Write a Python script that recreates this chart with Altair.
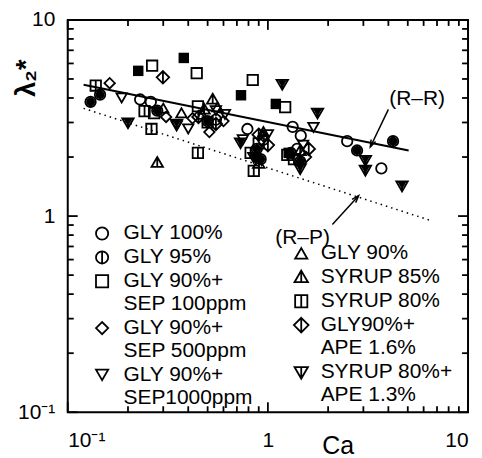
import altair as alt
import pandas as pd

# ---------------- data ----------------
LEFT_SERIES = ["GLY 100%", "GLY 95%", "GLY 90%+|SEP 100ppm", "GLY 90%+|SEP 500ppm", "GLY 90%+|SEP1000ppm"]
RIGHT_SERIES = ["GLY 90%", "SYRUP 85%", "SYRUP 80%", "GLY90%+|APE 1.6%", "SYRUP 80%+|APE 1.3%"]

GLY100_X = [0.23, 0.26, 0.79, 1.33, 1.46, 2.49, 3.69, 0.95, 1.40, 0.55]
GLY100_Y = [3.93, 3.82, 2.78, 2.85, 2.57, 2.41, 1.75, 2.45, 2.20, 3.10]

GLY95_X = [0.13, 0.145, 0.28, 0.50, 0.88, 0.92, 1.30, 1.45, 2.79, 4.22]
GLY95_Y = [3.82, 4.16, 3.45, 3.05, 2.20, 1.95, 2.10, 1.90, 2.16, 2.41]

SEP100_X = [0.264, 0.441, 0.84, 1.22, 0.447, 0.27, 0.90]
SEP100_Y = [5.84, 5.35, 4.94, 3.59, 3.63, 3.35, 2.35]

SEP500_X = [0.162, 0.51, 0.31, 0.60, 0.42, 0.95, 1.55]
SEP500_Y = [4.76, 2.68, 3.20, 3.05, 3.15, 2.55, 2.00]

SEP1000_X = [0.186, 0.35, 0.40, 1.69, 0.61, 0.55, 0.75, 1.50, 1.00]
SEP1000_Y = [4.00, 2.88, 2.78, 2.83, 3.30, 3.45, 2.45, 2.30, 2.60]

GLY90_X = [0.37, 0.30, 0.47, 0.95, 0.56]
GLY90_Y = [3.36, 3.55, 3.30, 2.70, 3.60]

SYR85_X = [0.28, 0.53, 0.48, 0.90, 1.45]
SYR85_Y = [1.87, 3.93, 3.50, 1.85, 2.15]

SYR80_X = [0.138, 0.242, 0.262, 0.447, 0.85, 0.82, 1.25, 1.35, 0.50]
SYR80_Y = [4.63, 3.43, 2.78, 2.10, 1.70, 2.10, 2.05, 1.95, 3.00]

APE16_X = [0.299, 0.45, 0.55, 0.90, 1.00, 1.60]
APE16_Y = [5.10, 3.20, 2.95, 2.60, 2.30, 2.20]

APE13_X = [0.20, 1.18, 1.77, 3.07, 3.07, 4.68, 0.73, 0.85, 1.45, 0.35]
APE13_Y = [3.00, 4.71, 3.36, 1.93, 1.72, 1.43, 2.37, 2.00, 1.75, 2.95]

SOLIDSQ_X = [0.225, 0.38, 0.734, 1.096, 1.27]
SOLIDSQ_Y = [5.50, 6.40, 4.13, 3.73, 2.10]

RR_X = [0.12, 5.05]
RR_Y = [4.67, 2.16]
RP_X = [0.12, 6.5]
RP_Y = [3.54, 0.95]

ANNOT_TEXT = ["(R\u2013R)", "(R\u2013P)"]
ANNOT_X = [5.57, 1.49]
ANNOT_Y = [3.93, 0.77]
ARROW_X1 = [4.0, 2.1]
ARROW_Y1 = [3.5, 0.906]
ARROW_X2 = [3.25, 2.84]
ARROW_Y2 = [2.25, 1.27]
ARROW_ANGLE = [205, 42]

MAJOR_TICKS = [0.1, 1, 10]
MINOR_TICKS = [0.2, 0.3, 0.4, 0.5, 0.6, 0.7, 0.8, 0.9,
               2, 3, 4, 5, 6, 7, 8, 9]

# ---------------- layout / symbols ----------------
W, H = 402, 394
MAJOR_LEN, MINOR_LEN = 10, 6
TICK_COLOR = "black"

CIRCLE_BAR = "M-1,0A1,1,0,1,1,1,0A1,1,0,1,1,-1,0ZM0,-1L0,1"
SQUARE_BAR = "M-1,-1L1,-1L1,1L-1,1ZM0,-1L0,1"
DIAMOND_BAR = "M0,-1.2L1.2,0L0,1.2L-1.2,0ZM0,-1.2L0,1.2"
TRI_UP_BAR = "M0,-1.1L1.1,0.8L-1.1,0.8ZM0,-1.1L0,0.8"
TRI_DOWN_BAR = "M-1.1,-0.8L1.1,-0.8L0,1.1ZM0,-0.8L0,1.1"
ARROW_HEAD = "M-0.45,1.3L0,0L0.45,1.3"

LEFT_SHAPES = ["circle", CIRCLE_BAR, "square", "diamond", "triangle-down"]
RIGHT_SHAPES = ["triangle-up", TRI_UP_BAR, SQUARE_BAR, DIAMOND_BAR, TRI_DOWN_BAR]


def frame(name, xs, ys):
    return pd.DataFrame({"series": name, "x": xs, "y": ys})


left_df = pd.concat([
    frame(LEFT_SERIES[0], GLY100_X, GLY100_Y),
    frame(LEFT_SERIES[1], GLY95_X, GLY95_Y),
    frame(LEFT_SERIES[2], SEP100_X, SEP100_Y),
    frame(LEFT_SERIES[3], SEP500_X, SEP500_Y),
    frame(LEFT_SERIES[4], SEP1000_X, SEP1000_Y),
])
right_df = pd.concat([
    frame(RIGHT_SERIES[0], GLY90_X, GLY90_Y),
    frame(RIGHT_SERIES[1], SYR85_X, SYR85_Y),
    frame(RIGHT_SERIES[2], SYR80_X, SYR80_Y),
    frame(RIGHT_SERIES[3], APE16_X, APE16_Y),
    frame(RIGHT_SERIES[4], APE13_X, APE13_Y),
])

FONT = "Liberation Sans"
LABELS = "datum.value == 0.1 ? '10\u207b\u00b9' : datum.value == 1 ? '1' : '10'"

xscale = alt.Scale(type="log", domain=[0.1, 10], nice=False)
yscale = alt.Scale(type="log", domain=[0.1, 10], nice=False)

x_axis = alt.Axis(values=MAJOR_TICKS, labelExpr=LABELS, ticks=False, labelPadding=17,
                  title="Ca", titleFont=FONT, titleFontSize=25, titleFontWeight="normal",
                  titleX=271, titleY=41, titleBaseline="alphabetic", titleAlign="center")
y_axis = alt.Axis(values=MAJOR_TICKS, labelExpr=LABELS, ticks=False, labelPadding=13,
                  title="\u03bb\u2082*", titleFont=FONT, titleFontSize=27,
                  titleFontWeight="bold", titleX=-41, titleY=58, titleAngle=270,
                  titleAlign="center", titleBaseline="middle")

X = alt.X("x:Q", scale=xscale, axis=x_axis)
Y = alt.Y("y:Q", scale=yscale, axis=y_axis)

legend_common = dict(title=None, orient="none", labelFont=FONT, labelFontSize=21,
                     labelExpr="split(datum.label, '|')", symbolSize=150,
                     symbolStrokeWidth=1.8, symbolStrokeColor="black",
                     rowPadding=2, padding=0, labelLimit=400)

left_pts = alt.Chart(left_df).mark_point(filled=False, color="black", strokeWidth=1.8,
                                         size=110, opacity=1).encode(
    x=X, y=Y,
    shape=alt.Shape("series:N", sort=LEFT_SERIES,
                    scale=alt.Scale(domain=LEFT_SERIES, range=LEFT_SHAPES),
                    legend=alt.Legend(legendX=24, legendY=204, labelOffset=11, **legend_common)))

right_pts = alt.Chart(right_df).mark_point(filled=False, color="black", strokeWidth=1.8,
                                           size=110, opacity=1).encode(
    x=X, y=Y,
    shape=alt.Shape("series:N", sort=RIGHT_SERIES,
                    scale=alt.Scale(domain=RIGHT_SERIES, range=RIGHT_SHAPES),
                    legend=alt.Legend(legendX=224, legendY=224, labelOffset=9, **legend_common)))

points = alt.layer(left_pts, right_pts).resolve_scale(shape="independent")

solid_circles = alt.Chart(frame("GLY 95%", GLY95_X, GLY95_Y)).mark_point(
    filled=True, shape="circle", size=80, color="black", opacity=1).encode(x=X, y=Y)
solid_tri = alt.Chart(frame("SYRUP 80%+APE", APE13_X, APE13_Y)).mark_point(
    filled=True, shape="triangle-down", size=80, color="black", opacity=1).encode(x=X, y=Y)
solid_sq = alt.Chart(frame("solid", SOLIDSQ_X, SOLIDSQ_Y)).mark_point(
    filled=True, shape="square", size=110, color="black", opacity=1).encode(x=X, y=Y)

rr_line = alt.Chart(pd.DataFrame({"x": RR_X, "y": RR_Y})).mark_line(
    color="black", strokeWidth=2).encode(x=X, y=Y)
rp_line = alt.Chart(pd.DataFrame({"x": RP_X, "y": RP_Y})).mark_line(
    color="black", strokeWidth=1.5, strokeDash=[1.5, 4]).encode(x=X, y=Y)

annot_df = pd.DataFrame({"text": ANNOT_TEXT, "x": ANNOT_X, "y": ANNOT_Y})
annot = alt.Chart(annot_df).mark_text(font=FONT, fontSize=21, color="black").encode(
    x=X, y=Y, text="text:N")

arrow_df = pd.DataFrame({"x": ARROW_X1, "y": ARROW_Y1, "x2": ARROW_X2, "y2": ARROW_Y2,
                         "angle": ARROW_ANGLE})
arrow_lines = alt.Chart(arrow_df).mark_rule(color="black", strokeWidth=1.5).encode(
    x=X, y=Y, x2="x2:Q", y2="y2:Q")
arrow_heads = alt.Chart(arrow_df).mark_point(shape=ARROW_HEAD, filled=False, size=120,
                                             color="black", strokeWidth=1.5, opacity=1).encode(
    x=alt.X("x2:Q", scale=xscale, axis=x_axis),
    y=alt.Y("y2:Q", scale=yscale, axis=y_axis),
    angle=alt.Angle("angle:Q", scale=None))

# ---------------- inward ticks on all four sides (drawn through the scales) ----------------
def ticks_x(values, length):
    df = pd.DataFrame({"x": values})
    base = alt.Chart(df).mark_rule(color=TICK_COLOR, strokeWidth=1.8, opacity=1)
    bottom = base.encode(x=X, y=alt.value(H), y2=alt.value(H - length))
    top = base.encode(x=X, y=alt.value(0), y2=alt.value(length))
    return [bottom, top]


def ticks_y(values, length):
    df = pd.DataFrame({"y": values})
    base = alt.Chart(df).mark_rule(color=TICK_COLOR, strokeWidth=1.8, opacity=1)
    left = base.encode(y=Y, x=alt.value(0), x2=alt.value(length))
    right = base.encode(y=Y, x=alt.value(W), x2=alt.value(W - length))
    return [left, right]


tick_marks = (ticks_x(MAJOR_TICKS, MAJOR_LEN) + ticks_x(MINOR_TICKS, MINOR_LEN)
              + ticks_y(MAJOR_TICKS, MAJOR_LEN) + ticks_y(MINOR_TICKS, MINOR_LEN))

chart = alt.layer(rp_line, rr_line, solid_sq, points, solid_circles, solid_tri,
                  annot, arrow_lines, arrow_heads, *tick_marks).properties(
    width=W, height=H, background="white",
    padding={"left": 5, "top": 0, "right": 5, "bottom": 0}
).configure_axis(
    labelFont=FONT, labelFontSize=21, labelColor="black", domain=False, grid=False
).configure_view(stroke="black", strokeWidth=2)

chart.save("out.html", embed_options={"renderer": "svg", "actions": False})
